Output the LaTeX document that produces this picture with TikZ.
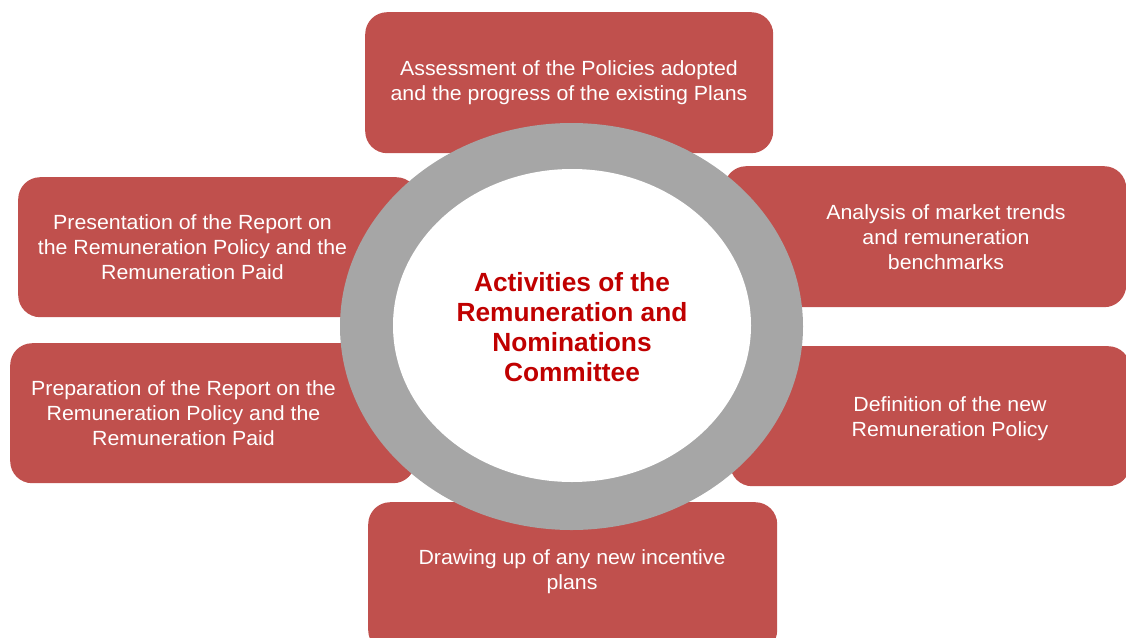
\documentclass[tikz,border=0pt]{standalone}
\usepackage{fontspec}
\setmainfont{Liberation Sans}
\newfontfamily\actfont{Liberation Sans}[FakeStretch=1.04]
\usetikzlibrary{shapes.geometric}
\definecolor{boxred}{HTML}{C0504D}
\definecolor{ringgray}{HTML}{A6A6A6}
\definecolor{titlered}{HTML}{C00000}
\begin{document}
\begin{tikzpicture}[x=1pt,y=-1pt,
  actbox/.style={rectangle, rounded corners=22pt, fill=boxred, draw=none, anchor=north west, inner sep=0pt},
  acttext/.style={text=white, align=center, inner sep=0pt, font=\actfont\fontsize{20.5}{25}\selectfont},
  hubtext/.style={text=titlered, align=center, inner sep=0pt, font=\bfseries\fontsize{26.3}{30}\selectfont}]
\useasboundingbox (0,0) rectangle (1126,637);
\clip (0,0) rectangle (1126,637);
% boxes
\node[actbox, minimum width=408pt, minimum height=141pt] (btop) at (365,12) {};
\node[actbox, minimum width=402pt, minimum height=141pt] (bru) at (724,166) {};
\node[actbox, minimum width=400pt, minimum height=140pt] (brl) at (730,346) {};
\node[actbox, minimum width=400pt, minimum height=140pt] (blu) at (18,177) {};
\node[actbox, minimum width=405pt, minimum height=140pt] (bll) at (10,343) {};
\node[actbox, minimum width=409pt, minimum height=150pt] (bbot) at (368,502) {};
% ring
\node[ellipse, fill=ringgray, inner sep=0pt, minimum width=463pt, minimum height=407pt] (ring) at (571.5,326.5) {};
\node[ellipse, fill=white, inner sep=0pt, minimum width=358pt, minimum height=313pt] (hub) at (572,325.5) {};
% texts
\node[acttext] (ttop) at (569,82.5) {Assessment of the Policies adopted\\and the progress of the existing Plans};
\node[acttext] (tru) at (946,237) {Analysis of market trends\\and remuneration\\benchmarks};
\node[acttext] (trl) at (950,418.5) {Definition of the new\\Remuneration Policy};
\node[acttext] (tlu) at (192.5,247.5) {Presentation of the Report on\\the Remuneration Policy and the\\Remuneration Paid};
\node[acttext] (tll) at (183.5,413.5) {Preparation of the Report on the\\Remuneration Policy and the\\Remuneration Paid};
\node[acttext] (tbot) at (572,571.5) {Drawing up of any new incentive\\plans};
\node[hubtext] (thub) at (572,327.5) {Activities of the\\Remuneration and\\Nominations\\Committee};
\end{tikzpicture}
\end{document}
